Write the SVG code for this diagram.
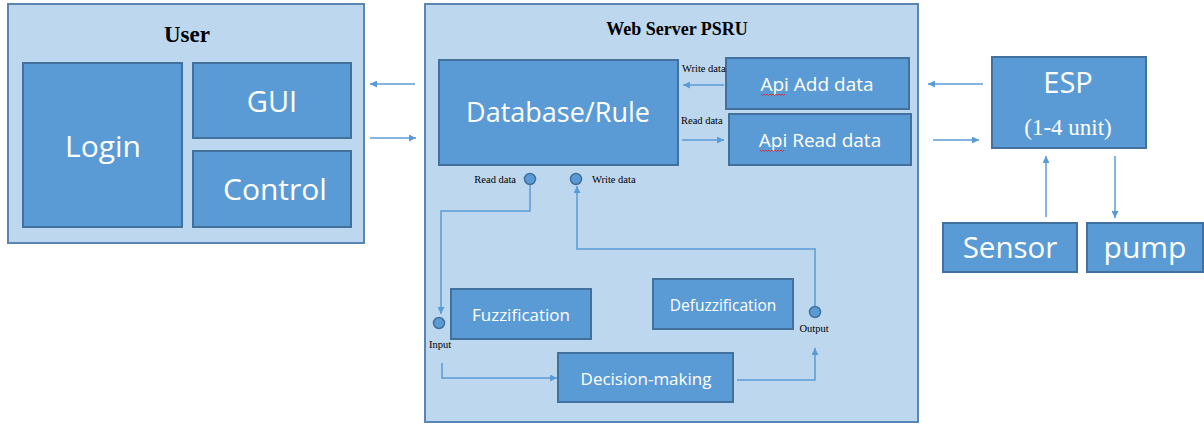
<svg xmlns="http://www.w3.org/2000/svg" width="1204" height="425" viewBox="0 0 1204 425">
  <style>
    .panel { fill: #BDD7EE; stroke: #5B86B3; stroke-width: 2; }
    .box { fill: #5B9BD5; stroke: #41719C; stroke-width: 2; }
    .lbl { fill: #FFFFFF; font-family: "Open Sans", "Liberation Sans", sans-serif; text-anchor: middle; }
    .title { fill: #000; font-family: "Liberation Serif", serif; font-weight: bold; text-anchor: middle; }
    .small { fill: #000; font-family: "Liberation Serif", serif; font-size: 10.5px; }
    .wire { fill: none; stroke: #5B9BD5; stroke-width: 1.5; }
    .port { fill: #5B9BD5; stroke: #41719C; stroke-width: 1.5; }
    .squiggle { fill: none; stroke: #E02020; stroke-width: 0.8; }
  </style>
  <defs>
    <marker id="arrow" viewBox="0 0 10 10" refX="10" refY="5" markerWidth="7" markerHeight="7" markerUnits="userSpaceOnUse" orient="auto">
      <path d="M0,0 L10,5 L0,10 z" fill="#5B9BD5"/>
    </marker>
  </defs>
  <rect width="1204" height="425" fill="#FFFFFF"/>

  <!-- User panel -->
  <g id="user">
    <rect class="panel" x="8" y="4" width="356" height="239"/>
    <text class="title" x="187" y="42" font-size="23">User</text>
  </g>
  <g id="login">
    <rect class="box" x="23" y="63" width="159" height="164"/>
    <text class="lbl" x="103" y="157" font-size="30">Login</text>
  </g>
  <g id="gui">
    <rect class="box" x="193" y="63" width="158" height="75"/>
    <text class="lbl" x="272" y="112" font-size="29">GUI</text>
  </g>
  <g id="control">
    <rect class="box" x="193" y="151" width="158" height="76"/>
    <text class="lbl" x="275" y="200" font-size="30">Control</text>
  </g>

  <!-- Web server panel -->
  <g id="webserver">
    <rect class="panel" x="425" y="4" width="493" height="418"/>
    <text class="title" x="677" y="35" font-size="18">Web Server PSRU</text>
  </g>
  <g id="database">
    <rect class="box" x="439" y="60" width="239" height="105"/>
    <text class="lbl" x="558" y="122" font-size="27">Database/Rule</text>
  </g>
  <g id="api-add">
    <rect class="box" x="726" y="58" width="183" height="51"/>
    <text class="lbl" x="817" y="91" font-size="19">Api Add data</text>
    <path class="squiggle" d="M761,94 l1.5,1.5 l1.5,-1.5 l1.5,1.5 l1.5,-1.5 l1.5,1.5 l1.5,-1.5 l1.5,1.5 l1.5,-1.5 l1.5,1.5 l1.5,-1.5 l1.5,1.5 l1.5,-1.5 l1.5,1.5 l1.5,-1.5 l1.5,1.5 l1.5,-1.5"/>
  </g>
  <g id="api-read">
    <rect class="box" x="729" y="114" width="182" height="51"/>
    <text class="lbl" x="820" y="147" font-size="19">Api Read data</text>
    <path class="squiggle" d="M760,150 l1.5,1.5 l1.5,-1.5 l1.5,1.5 l1.5,-1.5 l1.5,1.5 l1.5,-1.5 l1.5,1.5 l1.5,-1.5 l1.5,1.5 l1.5,-1.5 l1.5,1.5 l1.5,-1.5 l1.5,1.5 l1.5,-1.5 l1.5,1.5 l1.5,-1.5"/>
  </g>
  <g id="fuzzification">
    <rect class="box" x="451" y="289" width="140" height="50"/>
    <text class="lbl" x="521" y="321" font-size="17">Fuzzification</text>
  </g>
  <g id="defuzzification">
    <rect class="box" x="653" y="279" width="140" height="50"/>
    <text class="lbl" x="723" y="311" font-size="15.5">Defuzzification</text>
  </g>
  <g id="decision">
    <rect class="box" x="558" y="353" width="175" height="49"/>
    <text class="lbl" x="646" y="385" font-size="17">Decision-making</text>
  </g>

  <!-- ESP and field devices -->
  <g id="esp">
    <rect class="box" x="992" y="57" width="154" height="91"/>
    <text class="lbl" x="1068" y="93" font-size="29">ESP</text>
    <text x="1068" y="135" font-size="23" fill="#FFFFFF" text-anchor="middle" font-family="Liberation Serif, serif">(1-4 unit)</text>
  </g>
  <g id="sensor">
    <rect class="box" x="943" y="223" width="134" height="49"/>
    <text class="lbl" x="1010" y="258" font-size="29.5">Sensor</text>
  </g>
  <g id="pump">
    <rect class="box" x="1087" y="223" width="116" height="49"/>
    <text class="lbl" x="1145" y="258" font-size="30">pump</text>
  </g>

  <!-- Ports and their labels -->
  <g id="ports">
    <circle class="port" cx="530" cy="179" r="5.5"/>
    <circle class="port" cx="576" cy="179" r="5.5"/>
    <circle class="port" cx="439" cy="323" r="5.5"/>
    <circle class="port" cx="815" cy="312" r="5.5"/>
    <text class="small" x="516" y="183" text-anchor="end">Read data</text>
    <text class="small" x="592" y="183">Write data</text>
    <text class="small" x="440" y="348" text-anchor="middle">Input</text>
    <text class="small" x="814" y="332" text-anchor="middle">Output</text>
    <text class="small" x="682" y="72">Write data</text>
    <text class="small" x="681" y="124">Read data</text>
  </g>

  <!-- Connectors -->
  <g id="connectors">
    <line class="wire" x1="415" y1="84" x2="370" y2="84" marker-end="url(#arrow)"/>
    <line class="wire" x1="370" y1="138" x2="416" y2="138" marker-end="url(#arrow)"/>
    <line class="wire" x1="724" y1="85" x2="683" y2="85" marker-end="url(#arrow)"/>
    <line class="wire" x1="682" y1="140" x2="724" y2="140" marker-end="url(#arrow)"/>
    <polyline class="wire" points="530,185 530,211 441,211 441,314" marker-end="url(#arrow)"/>
    <polyline class="wire" points="815,306 815,249 577,249 577,186" marker-end="url(#arrow)"/>
    <polyline class="wire" points="442,363 442,378 557,378" marker-end="url(#arrow)"/>
    <polyline class="wire" points="737,380 815,380 815,348" marker-end="url(#arrow)"/>
    <line class="wire" x1="983" y1="84" x2="928" y2="84" marker-end="url(#arrow)"/>
    <line class="wire" x1="933" y1="140" x2="979" y2="140" marker-end="url(#arrow)"/>
    <line class="wire" x1="1046" y1="217" x2="1046" y2="156" marker-end="url(#arrow)"/>
    <line class="wire" x1="1115" y1="156" x2="1115" y2="218" marker-end="url(#arrow)"/>
  </g>
</svg>
